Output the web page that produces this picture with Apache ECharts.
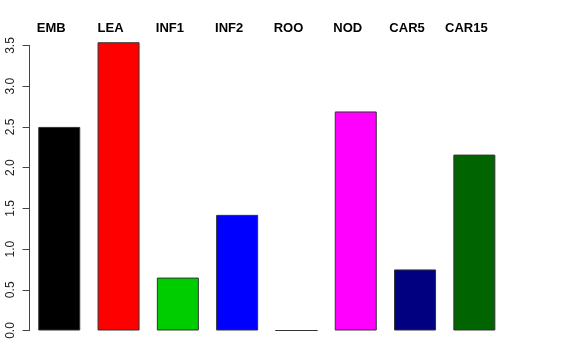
<!DOCTYPE html>
<html><head><meta charset="utf-8">
<script src="https://cdn.jsdelivr.net/npm/echarts@6/dist/echarts.min.js"></script>
<style>html,body{margin:0;padding:0;background:#fff}#c{width:576px;height:360px}</style>
</head><body><div id="c"></div>
<script>
const categories = ['EMB','LEA','INF1','INF2','ROO','NOD','CAR5','CAR15'];
const values = [2.5, 3.54, 0.65, 1.42, 0.0, 2.69, 0.75, 2.16];
const colors = ['#000000','#ff0000','#00cd00','#0000ff','#00ffff','#ff00ff','#000080','#006400'];
const yTicks = [0, 0.5, 1, 1.5, 2, 2.5, 3, 3.5];

const chart = echarts.init(document.getElementById('c'), null, {renderer:'canvas'});
chart.setOption({
  animation:false,
  backgroundColor:'#fff',
  grid:[{left:29.6, right:72, top:45.5, bottom:29.5}],
  xAxis:[{
    type:'category', data:categories, position:'top',
    axisLine:{show:false}, axisTick:{show:false},
    axisLabel:{fontFamily:'Liberation Sans', fontWeight:'bold', fontSize:13, color:'#000', margin:11, padding:[0,16,0,0], interval:0}
  }],
  yAxis:[{
    type:'value', min:yTicks[0], max:yTicks[yTicks.length-1], interval:0.5,
    axisLine:{show:true, lineStyle:{color:'#444', width:1}},
    axisTick:{show:true, length:7, lineStyle:{color:'#444'}},
    splitLine:{show:false},
    axisLabel:{rotate:90, fontFamily:'Liberation Sans', fontSize:12, color:'#222', margin:13,
      formatter: v => v.toFixed(1)}
  }],
  series:[{
    type:'bar', barWidth:42, clip:false,
    data: values.map((v,i)=>({value:v, itemStyle:{color:colors[i]}})),
    itemStyle:{borderColor:'#333', borderWidth:1}
  }]
});
</script></body></html>
